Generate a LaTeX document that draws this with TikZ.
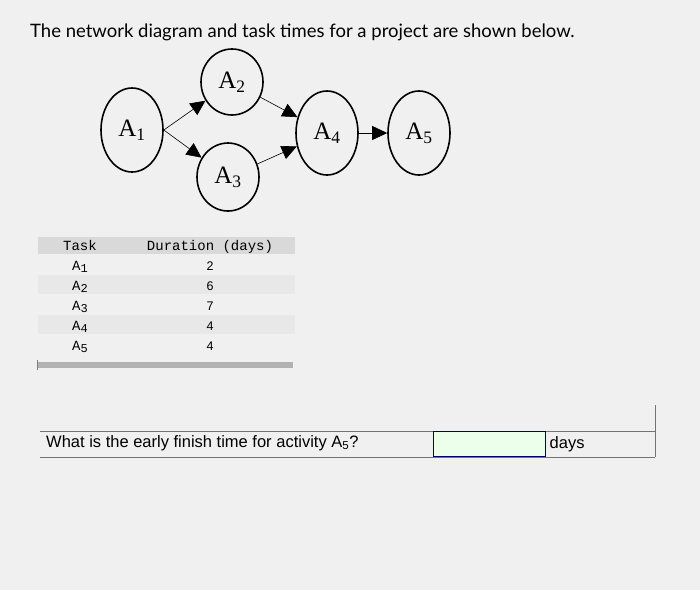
\documentclass[tikz,border=0pt]{standalone}
\usepackage{fontspec}
\setmainfont{Liberation Serif}
\newfontfamily\titlefont{Lato}
\newfontfamily\qfont{Liberation Sans}
\newfontfamily\tabfont{Liberation Mono}
\usetikzlibrary{shapes,arrows.meta,positioning}

\begin{document}
\begin{tikzpicture}[x=1pt,y=-1pt]
\tikzset{
  act/.style={draw,ellipse,line width=1.6pt,minimum width=62pt,minimum height=84pt,inner sep=0pt,font=\fontsize{25}{28}\selectfont},
  link/.style={-{Triangle[length=15pt,width=14pt]},line width=0.6pt},
  cell/.style={font=\tabfont\fontsize{14}{16}\selectfont,inner sep=0pt,anchor=base},
  num/.style={font=\qfont\fontsize{12.5}{14}\selectfont,inner sep=0pt,anchor=base},
}
\fill[black!6] (0,0) rectangle (700,590);
\useasboundingbox (0,0) rectangle (700,590);

\node[anchor=base west,inner sep=0pt,font=\titlefont\fontsize{18.5}{22}\selectfont] (title) at (30,37)
  {The network diagram and task times for a project are shown below.};

% network
\node[act] (a1) at (132,130) {A\textsubscript{1}};
\node[act,minimum height=66pt] (a2) at (232,82) {A\textsubscript{2}};
\node[act,minimum height=68pt] (a3) at (228,177) {A\textsubscript{3}};
\node[act] (a4) at (327,133) {A\textsubscript{4}};
\node[act] (a5) at (419,133) {A\textsubscript{5}};

\draw[link] (a1.east) -- (a2);
\draw[link] (a1.east) -- (a3);
\draw[link] (a2) -- (a4);
\draw[link] (a3) -- (a4);
\draw[link] (a4) -- (a5);

% table
\fill[black!15] (38,237) rectangle (295,254);
\fill[black!9] (38,275) rectangle (295,294);
\fill[black!9] (38,315) rectangle (295,334);
\fill[black!30] (37,362) rectangle (293,368);
\draw[black!50] (37,360) -- (37,370);

\node[cell] (task) at (80,250) {Task};
\node[cell] (dur) at (210,250) {Duration (days)};
\foreach \i / \d in {1/2,2/6,3/7,4/4,5/4} {
  \node[cell] (t\i) at (80,250+20*\i) {A\raisebox{-0.3ex}{\fontsize{12}{12}\selectfont\i}};
  \node[num] (d\i) at (210,250+20*\i) {\d};
}

% question
\draw[black!55] (40,431) -- (655,431);
\draw[black!55] (40,457) -- (655,457);
\draw[black!55] (655,405) -- (655,457);
\node[anchor=west,inner sep=0pt,font=\qfont\fontsize{16.5}{19}\selectfont] (q) at (46,443)
  {What is the early finish time for activity A\textsubscript{5}?};
\node[draw=blue!45!black,line width=1pt,fill=green!8,minimum width=112pt,minimum height=25pt,inner sep=0pt] (ans) at (489,444) {};
\node[right=4pt of ans,inner sep=0pt,font=\qfont\fontsize{16.5}{19}\selectfont] (days) {days};
\end{tikzpicture}
\end{document}
